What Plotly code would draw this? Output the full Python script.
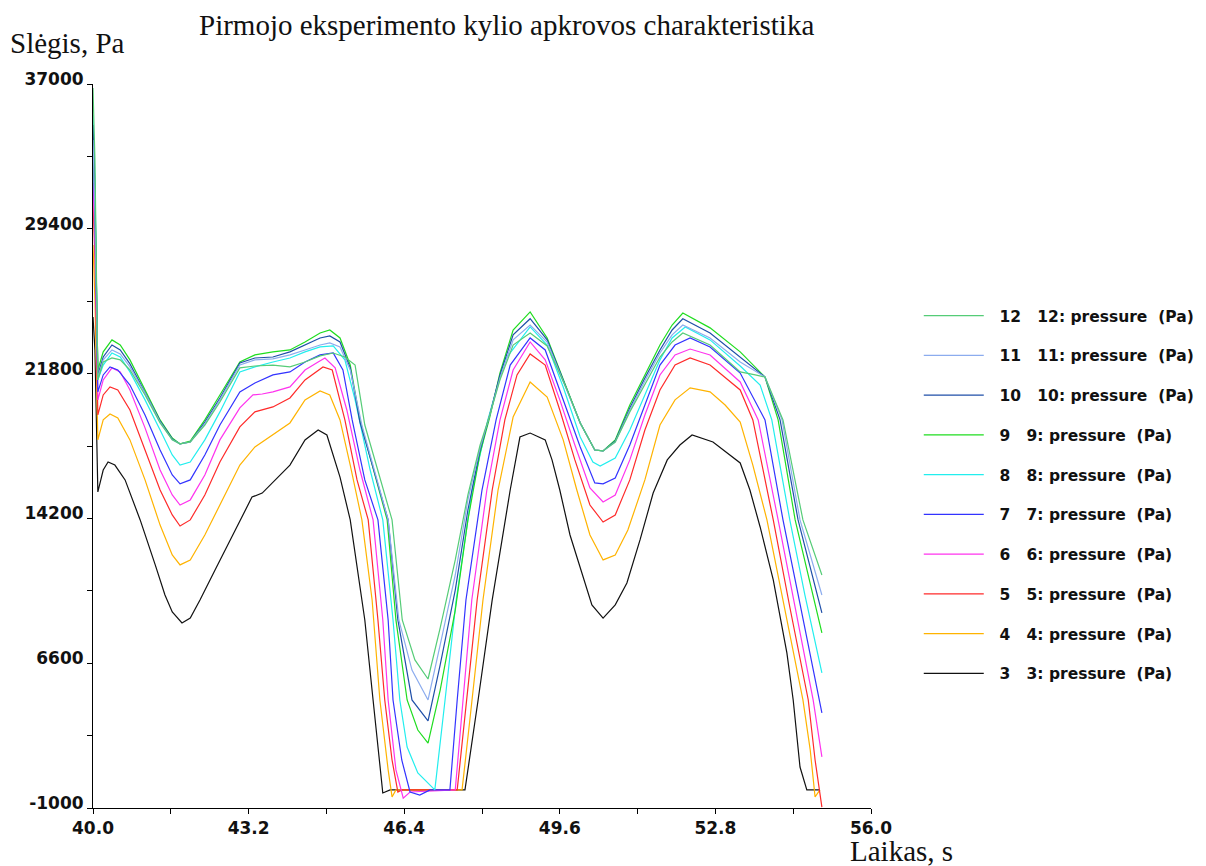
import plotly.graph_objects as go

# Time axis ticks (s) and pressure axis ticks (Pa)
x_ticks = [40.0, 41.6, 43.2, 44.8, 46.4, 48.0, 49.6, 51.2, 52.8, 54.4, 56.0]
x_tick_text = ["40.0", "", "43.2", "", "46.4", "", "49.6", "", "52.8", "", "56.0"]
y_ticks = [-1000, 2800, 6600, 10400, 14200, 18000, 21800, 25600, 29400, 33200, 37000]
y_tick_text = ["-1000", "", "6600", "", "14200", "", "21800", "", "29400", "", "37000"]

# Sensor 3
t3 = [40.00, 40.04, 40.10, 40.21, 40.31, 40.45, 40.66, 40.97, 41.28, 41.48, 41.63, 41.83, 42.00, 42.20, 42.51,
      42.82, 43.13, 43.27, 43.48, 43.74, 44.05, 44.36, 44.63, 44.81, 45.08, 45.29, 45.59, 45.76, 45.96, 46.11,
      47.65, 47.92, 48.21, 48.58, 48.78, 48.99, 49.30, 49.44, 49.60, 49.81, 50.02, 50.26, 50.49, 50.74, 50.98,
      51.25, 51.52, 51.81, 52.07, 52.32, 52.75, 53.10, 53.31, 53.51, 53.72, 53.99, 54.27, 54.40, 54.54, 54.68, 54.95]
p3 = [24770, 23040, 15590, 16740, 17160, 17000, 16220, 14120, 11760, 10180, 9290, 8710, 8970, 9920, 11490,
      13070, 14640, 15320, 15530, 16220, 17000, 18320, 18840, 18580, 16370, 14120, 8870, 4670, -210, -50,
      -50, 4670, 9920, 15690, 18470, 18680, 18320, 17270, 15690, 13330, 11650, 9660, 8970, 9660, 10810,
      13070, 15530, 17270, 18050, 18580, 18210, 17530, 17110, 15690, 13750, 10970, 7140, 4670, 1150, -50, -50]

# Sensor 4
t4 = [40.00, 40.04, 40.10, 40.21, 40.35, 40.51, 40.76, 41.07, 41.38, 41.63, 41.79, 42.00, 42.30, 42.61, 43.02,
      43.33, 43.70, 44.05, 44.36, 44.67, 44.87, 45.08, 45.29, 45.53, 45.74, 45.90, 46.07, 46.15, 46.23, 47.59,
      47.75, 48.02, 48.33, 48.64, 48.99, 49.34, 49.67, 49.95, 50.22, 50.49, 50.74, 51.00, 51.35, 51.66, 51.97,
      52.28, 52.69, 53.00, 53.31, 53.57, 53.86, 54.23, 54.60, 54.75, 54.85, 54.95]
p4 = [28550, 25670, 18320, 19370, 19680, 19470, 18320, 16220, 13850, 12280, 11760, 12020, 13330, 14900, 17000,
      17950, 18580, 19210, 20420, 20890, 20680, 19370, 17000, 14120, 9920, 4670, 1000, -420, -50, -50,
      3620, 9920, 15690, 19520, 21360, 20570, 18320, 15690, 13330, 12020, 12280, 13590, 16220, 19100, 20420,
      21050, 20840, 20150, 19260, 17000, 14120, 9390, 4670, 2050, -420, -50]

# Sensor 5
t5 = [40.00, 40.04, 40.10, 40.21, 40.35, 40.51, 40.76, 41.07, 41.38, 41.63, 41.79, 42.00, 42.30, 42.61, 43.02,
      43.33, 43.70, 44.05, 44.36, 44.73, 44.92, 45.18, 45.43, 45.66, 45.86, 46.00, 46.15, 46.27, 46.35, 47.49,
      47.69, 47.90, 48.21, 48.47, 48.72, 48.99, 49.30, 49.60, 49.91, 50.22, 50.49, 50.74, 51.04, 51.35, 51.66,
      51.97, 52.28, 52.69, 53.31, 53.57, 53.99, 54.33, 54.71, 54.85, 54.99]
p5 = [30910, 27770, 19630, 20680, 21100, 20940, 19890, 17790, 15690, 14380, 13800, 14120, 15430, 17160, 19000,
      19790, 20050, 20520, 21470, 22150, 21990, 19370, 16220, 14120, 8870, 4670, 1520, -160, -50, -50,
      4670, 9920, 15690, 19370, 21730, 22830, 22250, 19890, 17270, 14900, 14010, 14380, 16220, 18840, 20940,
      22250, 22620, 22250, 20940, 19370, 14120, 9550, 4670, 1520, -950]

# Sensor 6
t6 = [40.00, 40.04, 40.10, 40.21, 40.39, 40.56, 40.76, 41.07, 41.38, 41.63, 41.79, 42.00, 42.30, 42.61, 43.02,
      43.29, 43.48, 43.70, 44.05, 44.36, 44.63, 44.77, 44.98, 45.22, 45.49, 45.76, 45.96, 46.07, 46.23, 46.38,
      46.52, 47.45, 47.61, 47.79, 48.10, 48.37, 48.64, 48.99, 49.30, 49.60, 49.91, 50.22, 50.49, 50.74, 51.04,
      51.35, 51.66, 51.97, 52.28, 52.69, 53.31, 53.68, 54.09, 54.44, 54.81, 54.99]
p6 = [31810, 28810, 20420, 21470, 22100, 21890, 20940, 18950, 16740, 15430, 14900, 15170, 16480, 18320, 20000,
      20680, 20730, 20840, 21100, 21990, 22410, 22620, 22100, 19890, 16740, 14120, 8870, 4670, 1000, -480,
      -160, -50, 4670, 9920, 15690, 19370, 21990, 23460, 22520, 20420, 18050, 15800, 15060, 15430, 17270,
      19630, 21730, 22780, 23090, 22780, 21360, 19370, 14120, 9550, 4670, 1680]

# Sensor 7
t7 = [40.00, 40.04, 40.10, 40.21, 40.35, 40.51, 40.76, 41.07, 41.38, 41.63, 41.79, 42.00, 42.30, 42.61, 43.02,
      43.33, 43.70, 44.05, 44.36, 44.67, 44.94, 45.14, 45.33, 45.59, 45.86, 46.07, 46.17, 46.35, 46.52, 46.72,
      46.93, 47.34, 47.49, 47.67, 48.00, 48.29, 48.58, 48.99, 49.30, 49.67, 50.02, 50.32, 50.49, 50.74, 51.04,
      51.35, 51.66, 51.97, 52.28, 52.69, 53.31, 53.82, 54.19, 54.54, 54.99]
p7 = [33540, 29860, 20840, 21730, 22150, 21990, 21200, 19630, 17790, 16480, 16010, 16220, 17530, 19100, 20840,
      21310, 21730, 21890, 22410, 22780, 22880, 21990, 19370, 16220, 14120, 8870, 4670, 1520, -160, -320,
      -50, -50, 4670, 9920, 15690, 19370, 22250, 23670, 23040, 20420, 17950, 16060, 16010, 16320, 18050,
      20150, 22250, 23300, 23670, 23200, 21830, 19370, 14120, 9710, 3990]

# Sensor 8
t8 = [40.00, 40.04, 40.10, 40.21, 40.39, 40.56, 40.76, 41.07, 41.38, 41.63, 41.79, 42.00, 42.30, 42.61, 43.02,
      43.33, 43.70, 44.05, 44.36, 44.67, 44.94, 45.18, 45.39, 45.70, 45.96, 46.17, 46.31, 46.46, 46.68, 47.03,
      47.24, 47.47, 47.80, 48.12, 48.47, 48.99, 49.34, 49.67, 50.02, 50.28, 50.43, 50.74, 51.04, 51.35, 51.66,
      51.91, 52.18, 52.69, 53.31, 53.72, 53.96, 54.33, 54.64, 54.99]
p8 = [35380, 31960, 21470, 22250, 22880, 22670, 21890, 20420, 18840, 17530, 17000, 17160, 18320, 19790, 21890,
      22150, 22410, 22620, 22940, 23200, 23250, 22520, 20420, 16740, 14120, 8870, 4670, 2200, 840, -50,
      4670, 9920, 15690, 19370, 22520, 24250, 23300, 21100, 18470, 17160, 16950, 17370, 18840, 20680, 22520,
      23670, 24250, 23570, 22200, 21200, 19370, 14120, 10180, 6090]

# Sensor 9
t9 = [40.00, 40.04, 40.10, 40.21, 40.39, 40.56, 40.76, 41.07, 41.38, 41.63, 41.79, 42.00, 42.30, 42.61, 43.02,
      43.33, 43.70, 44.05, 44.36, 44.67, 44.87, 45.08, 45.29, 45.49, 46.05, 46.23, 46.46, 46.68, 46.89, 47.14,
      47.45, 47.71, 47.96, 48.16, 48.37, 48.64, 48.99, 49.34, 49.75, 50.02, 50.32, 50.49, 50.74, 51.04, 51.35,
      51.66, 51.91, 52.13, 52.69, 53.31, 53.82, 54.09, 54.44, 54.99]
p9 = [34330, 30910, 21990, 22940, 23570, 23300, 22520, 20940, 19370, 18420, 18110, 18260, 19370, 20680, 22410,
      22780, 22940, 23040, 23460, 23930, 24090, 23670, 22250, 19370, 14120, 8870, 4670, 3090, 2410, 5190,
      9390, 14120, 17630, 19520, 21830, 24090, 25040, 23670, 20940, 19210, 17790, 17740, 18320, 20150, 21730,
      23300, 24350, 24980, 24200, 22940, 21620, 19370, 14120, 8190]

# Sensor 10
t10 = [40.00, 40.04, 40.10, 40.21, 40.39, 40.56, 40.76, 41.07, 41.38, 41.63, 41.79, 42.00, 42.30, 42.61, 43.02,
       43.33, 43.70, 44.05, 44.36, 44.67, 44.87, 45.08, 45.29, 45.49, 46.07, 46.27, 46.56, 46.89, 47.14, 47.45,
       47.71, 47.96, 48.16, 48.37, 48.64, 48.99, 49.34, 49.75, 50.02, 50.32, 50.49, 50.74, 51.04, 51.35, 51.66,
       51.91, 52.13, 52.69, 53.31, 53.82, 54.13, 54.50, 54.99]
p10 = [34850, 31440, 21730, 22670, 23300, 23040, 22310, 20840, 19310, 18370, 18110, 18210, 19260, 20520, 22360,
       22620, 22670, 22940, 23300, 23670, 23780, 23460, 22100, 19260, 14120, 8870, 4670, 3570, 6510, 10440,
       14640, 17790, 19630, 21730, 23830, 24680, 23570, 20940, 19210, 17790, 17740, 18260, 20000, 21570, 23040,
       24090, 24680, 23930, 22670, 21620, 19370, 14120, 9240]

# Sensor 11
t11 = [40.00, 40.04, 40.10, 40.21, 40.39, 40.56, 40.76, 41.07, 41.38, 41.63, 41.79, 42.00, 42.30, 42.61, 43.02,
       43.33, 43.70, 44.05, 44.36, 44.67, 44.87, 45.08, 45.29, 45.53, 46.07, 46.29, 46.56, 46.89, 47.14, 47.45,
       47.71, 47.96, 48.16, 48.37, 48.64, 48.99, 49.34, 49.75, 50.02, 50.32, 50.49, 50.74, 51.04, 51.35, 51.66,
       51.91, 52.13, 52.69, 53.31, 53.82, 54.17, 54.54, 54.99]
p11 = [34060, 30390, 21570, 22520, 23040, 22830, 22150, 20780, 19260, 18320, 18110, 18210, 19160, 20420, 22250,
       22520, 22570, 22780, 23040, 23300, 23410, 23200, 21990, 19100, 14120, 8870, 6240, 4670, 7560, 11230,
       15170, 17900, 19630, 21570, 23570, 24350, 23460, 20940, 19210, 17790, 17740, 18210, 19890, 21410, 22880,
       23830, 24350, 23670, 22410, 21620, 19370, 14120, 10180]

# Sensor 12
t12 = [40.00, 40.04, 40.10, 40.21, 40.39, 40.56, 40.76, 41.07, 41.38, 41.63, 41.79, 42.00, 42.30, 42.61, 43.02,
       43.33, 43.70, 44.05, 44.36, 44.67, 44.94, 45.18, 45.39, 45.59, 46.15, 46.36, 46.62, 46.89, 47.14, 47.45,
       47.71, 47.96, 48.16, 48.37, 48.64, 48.99, 49.34, 49.75, 50.02, 50.32, 50.49, 50.74, 51.04, 51.35, 51.66,
       51.91, 52.13, 52.69, 53.31, 53.62, 53.82, 54.19, 54.60, 54.99]
p12 = [36790, 33010, 21470, 22410, 22620, 22520, 21990, 20680, 19210, 18320, 18110, 18210, 19100, 20310, 22100,
       22200, 22250, 22150, 22410, 22730, 22880, 22670, 22250, 19100, 14120, 8870, 6770, 5770, 8450, 12020,
       15430, 18050, 19630, 21470, 23300, 23930, 23250, 20940, 19210, 17790, 17740, 18210, 19790, 21260, 22670,
       23460, 23930, 23300, 21890, 21730, 21620, 19370, 14120, 11230]

sensor_ids = [3, 4, 5, 6, 7, 8, 9, 10, 11, 12]
times = [t3, t4, t5, t6, t7, t8, t9, t10, t11, t12]
pressures = [p3, p4, p5, p6, p7, p8, p9, p10, p11, p12]
colors = ["#111111", "#ffb300", "#ff2a2a", "#ff33ee", "#3333ff",
          "#22eeee", "#1fdd1f", "#1f4fa8", "#8cacee", "#55cc77"]

NB = "\u00a0"
fig = go.Figure()
for sid, t, p, c in zip(sensor_ids, times, pressures, colors):
    fig.add_trace(go.Scatter(
        x=t, y=p, mode="lines",
        line=dict(color=c, width=1.2),
        name=f"{NB*2}{sid}{NB*3}{sid}: pressure{NB*2}(Pa)",
        legendgroup=f"s{sid}",
        legendrank=1000 - sid,   # highest sensor number listed first
        hoverinfo="skip",
    ))

tick_font = dict(family="DejaVu Sans", size=17, color="#111111", weight="bold")
serif = dict(family="Liberation Serif", size=29, color="#111111")

axis_common = dict(showgrid=False, zeroline=False, showline=True, linecolor="black", linewidth=1,
                   ticks="outside", ticklen=5, tickwidth=1, tickcolor="black")

fig.update_layout(
    width=1206, height=866,
    margin=dict(l=93, r=335, t=84, b=58, autoexpand=False),
    paper_bgcolor="white", plot_bgcolor="white",
    xaxis=dict(range=[40, 56], tickvals=x_ticks, ticktext=x_tick_text, tickfont=tick_font,
               ticklabelstandoff=0, **axis_common),
    yaxis=dict(range=[-1000, 37000], tickvals=y_ticks, ticktext=y_tick_text, tickfont=tick_font,
               ticklabelshift=-5, ticklabelstandoff=0, **axis_common),
    xaxis2=dict(range=[40, 56], overlaying="x", anchor="y", side="bottom", tickvals=x_ticks,
                showticklabels=False, showgrid=False, zeroline=False, showline=False,
                ticks="inside", ticklen=5, tickwidth=1, tickcolor="black"),
    yaxis2=dict(range=[-1000, 37000], overlaying="y", anchor="x", side="left", tickvals=y_ticks,
                showticklabels=False, showgrid=False, zeroline=False, showline=False,
                ticks="inside", ticklen=5, tickwidth=1, tickcolor="black"),
    showlegend=True,
    legend=dict(x=1.0614, y=0.703, xanchor="left", yanchor="top",
                traceorder="grouped", tracegroupgap=16.6, itemwidth=60,
                font=dict(family="DejaVu Sans", size=15.5, color="#111111", weight="bold"),
                bgcolor="rgba(0,0,0,0)"),
    annotations=[
        dict(text="Pirmojo eksperimento kylio apkrovos charakteristika", xref="paper", yref="paper",
             x=0.531, y=1.0815, xanchor="center", yanchor="middle", showarrow=False, font=serif),
        dict(text="Slėgis, Pa", xref="paper", yref="paper", x=-0.1093, y=1.0566,
             xanchor="left", yanchor="middle", showarrow=False, font=serif),
        dict(text="Laikas, s", xref="paper", yref="paper", x=0.9704, y=-0.0595,
             xanchor="left", yanchor="middle", showarrow=False, font=serif),
    ],
)

fig.write_html("out.html")
